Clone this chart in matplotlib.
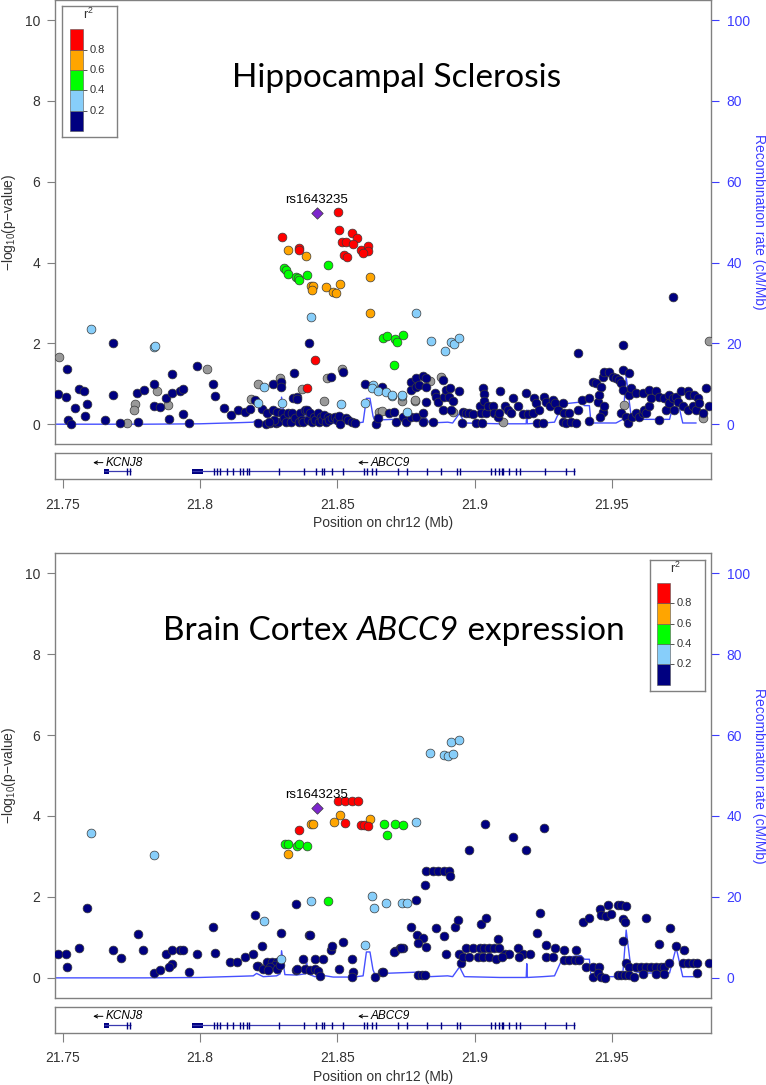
import numpy as np
import matplotlib
matplotlib.use('Agg')
import matplotlib.pyplot as plt

plt.rcParams['font.family'] = ['Liberation Sans', 'DejaVu Sans']
plt.rcParams['mathtext.fontset'] = 'custom'
plt.rcParams['mathtext.rm'] = 'Liberation Sans'
plt.rcParams['mathtext.it'] = 'Liberation Sans:italic'
plt.rcParams['mathtext.bf'] = 'Liberation Sans:bold'

# ---------------- data ----------------
XLIM = (21.7473, 21.9862)
YLIM = (-0.49, 10.49)
X_TICKS = [21.75, 21.80, 21.85, 21.90, 21.95]
X_TICK_LABELS = ['21.75', '21.8', '21.85', '21.9', '21.95']
Y_TICKS = [0, 2, 4, 6, 8, 10]
RECOMB_TICKS = [0, 20, 40, 60, 80, 100]

LD_BINS = [0.0, 0.2, 0.4, 0.6, 0.8, 1.0]
LD_LABELS = ['0.2', '0.4', '0.6', '0.8']
LD_COLORS = ['#000080', '#87CEFA', '#00FF00', '#FFA500', '#FF0000']
NA_COLOR = '#999999'
LEAD_COLOR = '#7D26CD'

LEAD_SNP = 'rs1643235'
HS_TITLE = ['Hippocampal Sclerosis']
EQ_TITLE = ['Brain Cortex ', 'ABCC9', ' expression']
EQ_TITLE_ITALIC = [False, True, False]

RECOMB_POS = [21.7473, 21.7800, 21.8000, 21.8100, 21.8150, 21.8194, 21.8206, 21.8230, 21.8279,
              21.8292, 21.8297, 21.8309, 21.8352, 21.8384, 21.8388, 21.8393, 21.8418, 21.8449,
              21.8485, 21.8558, 21.8594, 21.8606, 21.8619, 21.8630, 21.8637, 21.8666, 21.8823,
              21.8836, 21.8902, 21.8920, 21.8945, 21.8963, 21.9091, 21.9188, 21.9190, 21.9192,
              21.9248, 21.9291, 21.9321, 21.9388, 21.9400, 21.9418, 21.9424, 21.9515, 21.9540,
              21.9552, 21.9570, 21.9588, 21.9612, 21.9710, 21.9734, 21.9758, 21.9806]
RECOMB_RATE = [0.0, 0.0, 0.1, 0.3, 0.4, 0.5, 1.1, 0.3, 0.5,
               1.0, 6.7, 0.8, 0.7, 1.0, 4.4, 1.0, 0.3, 0.6,
               0.2, 0.2, 0.5, 6.4, 6.4, 2.0, 0.8, 1.1, 1.5,
               0.3, 0.5, 0.3, 2.7, 0.3, 0.1, 0.1, 3.5, 0.1,
               0.3, 0.5, 5.0, 5.5, 4.6, 4.6, 0.3, 0.3, 1.2,
               11.8, 2.0, 1.5, 1.2, 1.2, 7.5, 0.3, 0.3]

GENE_NAMES = ['KCNJ8', 'ABCC9']
GENE_START = [21.7651, 21.7971]
GENE_END = [21.7747, 21.9364]
GENE_BLOCKS = [(21.7651, 21.7669), (21.7971, 21.8011)]
KCNJ8_EXONS = [21.7734, 21.7745]
ABCC9_EXONS = [21.8052, 21.8061, 21.8073, 21.8097, 21.8119, 21.8146, 21.8157, 21.8170, 21.8179,
               21.8288, 21.8379, 21.8422, 21.8443, 21.8451, 21.8479, 21.8521, 21.8597, 21.8609,
               21.8625, 21.8640, 21.8720, 21.8754, 21.8826, 21.8878, 21.8935, 21.8947, 21.9058,
               21.9075, 21.9088, 21.9100, 21.9105, 21.9127, 21.9151, 21.9166, 21.9257, 21.9333,
               21.9361]

# Hippocampal sclerosis GWAS (position Mb, -log10 p)
HS_LEAD = (21.8425, 5.22)
HS_RED = [(21.8503, 5.25), (21.8506, 4.80), (21.8552, 4.74), (21.8572, 4.60), (21.8518, 4.50),
          (21.8531, 4.50), (21.8558, 4.46), (21.8585, 4.31), (21.8610, 4.41), (21.8612, 4.28),
          (21.8592, 4.23), (21.8525, 4.19), (21.8534, 4.15), (21.8297, 4.64), (21.8360, 4.37),
          (21.8361, 4.30), (21.8418, 1.59), (21.8388, 0.89)]
HS_ORANGE = [(21.8319, 4.31), (21.8385, 4.16), (21.8619, 3.64), (21.8403, 3.41), (21.8412, 3.41),
             (21.8409, 3.31), (21.8460, 3.39), (21.8509, 3.47), (21.8485, 3.27), (21.8495, 3.25),
             (21.8619, 2.76)]
HS_GREEN = [(21.8467, 3.93), (21.8306, 3.87), (21.8313, 3.82), (21.8319, 3.73), (21.8349, 3.65),
            (21.8357, 3.61), (21.8361, 3.57), (21.8390, 3.69), (21.8667, 2.13), (21.8681, 2.19),
            (21.8710, 2.10), (21.8716, 2.03), (21.8740, 2.21), (21.8705, 1.47)]
HS_LBLUE = [(21.7602, 2.35), (21.7832, 1.91), (21.7835, 1.94), (21.8210, 0.53), (21.8234, 0.92),
            (21.8297, 0.52), (21.8404, 2.66), (21.8512, 0.50), (21.8600, 0.53), (21.8631, 0.97),
            (21.8625, 0.89), (21.8649, 0.83), (21.8679, 0.79), (21.8698, 0.70), (21.8736, 0.71),
            (21.8752, 0.31), (21.8787, 2.76), (21.8842, 2.06), (21.8915, 2.04), (21.8924, 1.99),
            (21.8943, 2.13), (21.8893, 1.80), (21.8700, 0.73), (21.8735, 0.73)]
HS_GRAY = [(21.7488, 1.66), (21.7733, 0.02), (21.7763, 0.50), (21.7760, 0.36), (21.7842, 0.83),
           (21.7882, 0.48), (21.8024, 1.37), (21.8184, 0.62), (21.8212, 0.99), (21.8291, 1.14),
           (21.8370, 0.87), (21.8451, 0.58), (21.8461, 1.14), (21.8516, 1.37), (21.8653, 0.29),
           (21.8661, 0.33), (21.8736, 0.58), (21.8782, 0.58), (21.8837, 1.08), (21.8878, 1.18),
           (21.8921, 0.31), (21.9103, 0.06), (21.9545, 0.48), (21.9830, 0.15), (21.9855, 2.06),
           (21.8784, 0.60)]
HS_NAVY = [(21.7515, 1.36), (21.7484, 0.75), (21.7511, 0.68), (21.7559, 0.87), (21.7579, 0.83),
           (21.7587, 0.50), (21.7581, 0.21), (21.7545, 0.40), (21.7520, 0.11), (21.7530, 0.00),
           (21.7654, 0.11), (21.7682, 0.73), (21.7684, 2.00), (21.7709, 0.02), (21.7775, 0.05),
           (21.7769, 0.77), (21.7796, 0.85), (21.7832, 1.00), (21.7832, 0.45), (21.7854, 0.42),
           (21.7875, 0.66), (21.7897, 0.78), (21.7898, 1.25), (21.7888, 0.12), (21.7927, 0.81),
           (21.7939, 0.87), (21.7937, 0.25), (21.7961, 0.04), (21.7988, 1.43), (21.8048, 1.00),
           (21.8054, 0.71), (21.8087, 0.40), (21.8112, 0.23), (21.8138, 0.34), (21.8164, 0.29),
           (21.8182, 0.37), (21.8200, 0.60), (21.8210, 0.02), (21.8224, 0.37), (21.8243, 0.27),
           (21.8239, 0.01), (21.8255, 0.02), (21.8264, 0.99), (21.8264, 0.35), (21.8279, 0.31),
           (21.8276, 0.02), (21.8294, 1.05), (21.8294, 0.92), (21.8297, 0.27), (21.8285, 0.06),
           (21.8268, 0.11), (21.8250, 0.06), (21.8305, 0.15), (21.8312, 0.06), (21.8320, 0.27),
           (21.8330, 0.06), (21.8334, 0.27), (21.8340, 0.64), (21.8342, 1.26), (21.8346, 0.15),
           (21.8355, 0.67), (21.8360, 0.06), (21.8365, 0.27), (21.8370, 0.11), (21.8376, 0.06),
           (21.8382, 0.35), (21.8388, 0.35), (21.8395, 0.11), (21.8398, 2.02), (21.8402, 0.27),
           (21.8408, 0.06), (21.8415, 0.19), (21.8420, 0.11), (21.8428, 0.27), (21.8432, 0.06),
           (21.8440, 0.19), (21.8445, 0.11), (21.8452, 0.23), (21.8458, 0.06), (21.8465, 0.19),
           (21.8470, 0.11), (21.8477, 1.18), (21.8480, 0.15), (21.8490, 0.19), (21.8500, 0.11),
           (21.8507, 0.21), (21.8509, 0.01), (21.8522, 1.30), (21.8530, 0.15), (21.8540, 0.11),
           (21.8552, 0.06), (21.8564, 0.04), (21.8600, 1.00), (21.8640, 0.01), (21.8661, 0.93),
           (21.8650, 0.15), (21.8352, 0.62),
           (21.8690, 0.27), (21.8708, 0.31), (21.8715, 0.06), (21.8739, 0.19), (21.8751, 0.06),
           (21.8769, 1.05), (21.8769, 0.85), (21.8769, 0.19), (21.8787, 1.14), (21.8787, 0.93),
           (21.8787, 0.19), (21.8799, 0.97), (21.8812, 1.20), (21.8812, 0.27), (21.8812, 0.06),
           (21.8824, 1.14), (21.8824, 0.93), (21.8824, 0.56), (21.8848, 0.06), (21.8854, 0.77),
           (21.8860, 0.68), (21.8866, 0.56), (21.8884, 1.10), (21.8890, 0.68), (21.8884, 0.35),
           (21.8896, 0.85), (21.8906, 0.68), (21.8909, 0.89), (21.8915, 0.35), (21.8921, 0.58),
           (21.8945, 0.83), (21.8953, 0.02), (21.8957, 0.31), (21.8969, 0.27), (21.8981, 0.27),
           (21.8993, 0.26), (21.9006, 0.02), (21.9018, 0.44), (21.9024, 0.27), (21.9027, 0.02),
           (21.9030, 0.89), (21.9036, 0.75), (21.9036, 0.58), (21.9042, 0.27), (21.9048, 0.44),
           (21.9066, 0.44), (21.9072, 0.27), (21.9084, 0.19), (21.9093, 0.81), (21.9090, 0.27),
           (21.9109, 0.44), (21.9121, 0.35), (21.9133, 0.27), (21.9139, 0.66), (21.9157, 0.44),
           (21.9175, 0.26), (21.9188, 0.78), (21.9194, 0.26), (21.9212, 0.27), (21.9218, 0.64),
           (21.9224, 0.52), (21.9226, 0.02), (21.9236, 0.35), (21.9248, 0.02), (21.9254, 0.68),
           (21.9260, 0.56), (21.9273, 0.44), (21.9285, 0.60), (21.9291, 0.52), (21.9303, 0.35),
           (21.9321, 0.52), (21.9327, 0.27), (21.9321, 0.06), (21.9333, 0.02), (21.9345, 0.27),
           (21.9351, 0.06), (21.9370, 0.02), (21.9376, 0.35), (21.9391, 0.60), (21.9416, 0.09),
           (21.9418, 0.64), (21.9430, 1.05), (21.9442, 1.01), (21.9448, 0.56), (21.9452, 0.73),
           (21.9460, 0.93), (21.9466, 1.18), (21.9473, 1.30), (21.9466, 0.31), (21.9473, 0.44),
           (21.9455, 0.19), (21.9491, 1.30), (21.9503, 1.18), (21.9515, 1.14), (21.9527, 1.10),
           (21.9533, 1.01), (21.9539, 1.34), (21.9539, 0.85), (21.9533, 0.27), (21.9552, 0.19),
           (21.9557, 0.02), (21.9561, 1.26), (21.9564, 0.73), (21.9570, 0.89), (21.9573, 0.19),
           (21.9588, 0.77), (21.9588, 0.27), (21.9600, 0.19), (21.9612, 0.77), (21.9612, 0.27),
           (21.9618, 0.35), (21.9624, 0.27), (21.9636, 0.85), (21.9636, 0.44), (21.9642, 0.64),
           (21.9661, 0.81), (21.9673, 0.68), (21.9673, 0.11), (21.9691, 0.64), (21.9697, 0.35),
           (21.9709, 0.73), (21.9709, 0.52), (21.9721, 0.64), (21.9727, 0.35), (21.9733, 0.68),
           (21.9739, 0.56), (21.9752, 0.81), (21.9758, 0.44), (21.9776, 0.81), (21.9776, 0.35),
           (21.9782, 0.73), (21.9794, 0.44), (21.9800, 0.73), (21.9806, 0.35), (21.9812, 0.64),
           (21.9818, 0.52), (21.9830, 0.27), (21.9842, 0.89), (21.9855, 0.44),
           (21.9376, 1.77), (21.9542, 1.95), (21.9722, 3.14)]

# Brain cortex ABCC9 eQTL (position Mb, -log10 p)
EQ_LEAD = (21.8425, 4.19)
EQ_RED = [(21.8503, 4.37), (21.8528, 4.38), (21.8552, 4.38), (21.8574, 4.37), (21.8528, 3.82),
          (21.8586, 3.78), (21.8598, 3.78), (21.8612, 3.76), (21.8361, 3.66)]
EQ_ORANGE = [(21.8509, 4.03), (21.8487, 3.86), (21.8403, 3.80), (21.8410, 3.80), (21.8619, 3.93),
             (21.8319, 3.05)]
EQ_GREEN = [(21.8467, 1.91), (21.8670, 3.80), (21.8710, 3.80), (21.8740, 3.78), (21.8680, 3.54),
            (21.8309, 3.31), (21.8319, 3.31), (21.8354, 3.26), (21.8361, 3.30), (21.8390, 3.26)]
EQ_LBLUE = [(21.7603, 3.59), (21.7832, 3.04), (21.8234, 1.40), (21.8295, 0.46), (21.8404, 1.90),
            (21.8600, 0.81), (21.8627, 2.02), (21.8633, 1.73), (21.8679, 1.84), (21.8734, 1.84),
            (21.8752, 1.84), (21.8786, 3.84), (21.8837, 5.55), (21.8889, 5.50), (21.8904, 5.49),
            (21.8922, 5.54), (21.8915, 5.83), (21.8943, 5.88)]
EQ_NAVY = [(21.7484, 0.60), (21.7511, 0.60), (21.7517, 0.26), (21.7560, 0.74), (21.7587, 1.73),
           (21.7682, 0.69), (21.7711, 0.50), (21.7775, 1.08), (21.7793, 0.69), (21.7832, 0.13),
           (21.7854, 0.19), (21.7875, 0.60), (21.7897, 0.69), (21.7897, 0.34), (21.7888, 0.26),
           (21.7927, 0.69), (21.7939, 0.69), (21.7961, 0.14), (21.7988, 0.60), (21.8048, 1.26),
           (21.8054, 0.62), (21.8109, 0.40), (21.8136, 0.38), (21.8164, 0.52), (21.8194, 0.59),
           (21.8200, 1.55), (21.8224, 0.78), (21.8210, 0.30), (21.8208, 0.29), (21.8230, 0.21),
           (21.8243, 0.40), (21.8261, 0.40), (21.8279, 0.40), (21.8273, 0.31), (21.8255, 0.26),
           (21.8249, 0.19), (21.8279, 0.21), (21.8291, 0.31), (21.8295, 1.11), (21.8349, 1.82),
           (21.8398, 1.07), (21.8402, 1.07), (21.8349, 0.19), (21.8352, 0.21), (21.8376, 0.46),
           (21.8382, 0.21), (21.8400, 0.19), (21.8418, 0.46), (21.8418, 0.21), (21.8430, 0.17),
           (21.8437, 0.04), (21.8449, 0.46), (21.8476, 0.70), (21.8482, 0.78), (21.8507, 0.21),
           (21.8521, 0.89), (21.8552, 0.46), (21.8558, 0.15), (21.8552, 0.03), (21.8639, 0.03),
           (21.8661, 0.15), (21.8710, 0.66), (21.8728, 0.73), (21.8740, 0.73), (21.8786, 1.92),
           (21.8821, 2.30), (21.8768, 1.26), (21.8789, 1.06), (21.8813, 0.98), (21.8795, 0.85),
           (21.8824, 0.77), (21.8859, 1.24), (21.8890, 1.04), (21.8895, 0.59), (21.8795, 0.07),
           (21.8807, 0.07), (21.8819, 0.07), (21.8824, 2.64), (21.8848, 2.64), (21.8866, 2.64),
           (21.8890, 2.64), (21.8906, 2.64), (21.8911, 2.52), (21.8979, 3.16), (21.9038, 3.80),
           (21.9139, 3.49), (21.9188, 3.16), (21.9252, 3.71), (21.8927, 1.25), (21.8939, 1.43),
           (21.9024, 1.32), (21.9042, 1.49), (21.9085, 0.96), (21.9228, 1.10), (21.9239, 1.61),
           (21.9260, 0.81), (21.9293, 0.74), (21.9327, 0.70), (21.9370, 0.70), (21.9394, 1.39),
           (21.9418, 1.49), (21.9457, 1.70), (21.9485, 1.80), (21.9461, 1.55), (21.9479, 1.53),
           (21.9497, 1.59), (21.9521, 1.80), (21.9533, 1.80), (21.9552, 1.77), (21.9540, 1.45),
           (21.9546, 1.39), (21.9540, 0.91), (21.9625, 1.49), (21.9671, 0.83), (21.9710, 1.22),
           (21.9734, 0.78), (21.9764, 0.70), (21.8945, 0.60), (21.8969, 0.73), (21.8993, 0.73),
           (21.9018, 0.73), (21.9036, 0.75), (21.9054, 0.73), (21.9072, 0.73), (21.9090, 0.73),
           (21.9109, 0.60), (21.9127, 0.60), (21.9157, 0.73), (21.9175, 0.60), (21.9200, 0.60),
           (21.8951, 0.36), (21.8957, 0.52), (21.8981, 0.52), (21.9012, 0.52), (21.9030, 0.52),
           (21.9054, 0.52), (21.9078, 0.46), (21.9100, 0.52), (21.9163, 0.52), (21.9260, 0.52),
           (21.9285, 0.52), (21.9327, 0.44), (21.9345, 0.44), (21.9364, 0.44), (21.9382, 0.44),
           (21.9406, 0.27), (21.9430, 0.27), (21.9454, 0.27), (21.9430, 0.03), (21.9448, 0.11),
           (21.9460, 0.03), (21.9476, 0.00), (21.9521, 0.07), (21.9533, 0.07), (21.9546, 0.07),
           (21.9552, 0.36), (21.9564, 0.27), (21.9588, 0.27), (21.9606, 0.27), (21.9624, 0.27),
           (21.9642, 0.27), (21.9661, 0.27), (21.9679, 0.27), (21.9691, 0.27), (21.9709, 0.36),
           (21.9758, 0.36), (21.9776, 0.36), (21.9794, 0.36), (21.9809, 0.36), (21.9809, 0.13),
           (21.9855, 0.36), (21.9564, 0.07), (21.9582, 0.03), (21.9612, 0.09), (21.9661, 0.09),
           (21.9691, 0.09), (21.8666, 0.15), (21.8708, 0.64), (21.8733, 0.75)]
EQ_GRAY = []

# ---------------- layout ----------------
W, H = 766, 1085
fig = plt.figure(figsize=(W / 100, H / 100), dpi=100)

def frac(left, top, right, bottom):
    return [left / W, 1 - bottom / H, (right - left) / W, (bottom - top) / H]

TXT = '#333333'
SPINE = '#808080'
BLUE = '#3c3cff'
SC = dict(s=40, edgecolors='#3a3a3a', linewidths=0.5, zorder=3)


def draw_title(ax, pieces, italic, x_left):
    prev = None
    for piece, it in zip(pieces, italic):
        style = 'italic' if it else 'normal'
        if prev is None:
            prev = ax.text(x_left, 0.805, piece, transform=ax.transAxes, ha='left',
                           va='baseline', fontsize=24, family='Lato', style=style,
                           color='black')
        else:
            prev = ax.annotate(piece, xy=(1, 0), xycoords=prev, ha='left', va='bottom',
                               fontsize=24, family='Lato', style=style, color='black')


def main_panel(rect, series, gray, lead, title, title_italic, title_x, legend_rect):
    ax = fig.add_axes(rect)
    ax2 = ax.twinx()
    ax2.plot(RECOMB_POS, RECOMB_RATE, color='#4650ff', lw=1.0)
    ax2.set_ylim(YLIM[0] * 10, YLIM[1] * 10)
    ax2.set_yticks(RECOMB_TICKS)
    ax2.tick_params(axis='y', colors=BLUE, labelsize=10, length=6, width=0.8, pad=5)
    ax2.set_ylabel('Recombination rate (cM/Mb)', color=BLUE, fontsize=10,
                   rotation=270, labelpad=12)
    ax.set_zorder(ax2.get_zorder() + 1)
    ax.patch.set_visible(False)
    for sp in ax2.spines.values():
        sp.set_visible(False)

    if gray:
        g = np.array(gray)
        ax.scatter(g[:, 0], g[:, 1], color=NA_COLOR, **SC)
    for pts, col in series:
        p = np.array(pts)
        ax.scatter(p[:, 0], p[:, 1], color=col, **SC)
    ax.scatter([lead[0]], [lead[1]], marker='D', s=34, color=LEAD_COLOR,
               edgecolors='#3a3a3a', linewidths=0.5, zorder=4)
    ax.annotate(LEAD_SNP, xy=lead, xytext=(0, 9.5), textcoords='offset points',
                ha='center', va='center', fontsize=9.5, color='black', zorder=5)

    ax.set_xlim(XLIM)
    ax.set_ylim(YLIM)
    ax.set_xticks([])
    ax.set_yticks(Y_TICKS)
    ax.tick_params(axis='y', colors=SPINE, labelcolor=TXT, labelsize=10, length=6,
                   width=0.8, pad=5)
    ax.set_ylabel(r'$-$log$_{\mathrm{10}}$(p$-$value)', fontsize=10, color=TXT)
    ax.yaxis.set_label_coords(-0.0565, 0.5)
    for sp in ax.spines.values():
        sp.set_color(SPINE)
        sp.set_linewidth(1.0)

    draw_title(ax, title, title_italic, title_x)

    # r2 legend
    lg = ax.inset_axes(legend_rect)
    lg.set_xlim(0, 1)
    lg.set_ylim(-0.0592, 1.2278)
    lg.set_xticks([])
    lg.set_yticks([])
    for sp in lg.spines.values():
        sp.set_color(SPINE)
        sp.set_linewidth(1.0)
    lows = np.array(LD_BINS[:-1])
    lg.bar(0.258, np.diff(LD_BINS), width=0.236, bottom=lows, color=LD_COLORS,
           edgecolor='#555555', linewidth=0.4)
    bounds = LD_BINS[1:-1]
    lg.hlines(bounds, 0.376, 0.45, color='#555555', lw=0.7)
    for b, lab in zip(bounds, LD_LABELS):
        lg.text(0.49, b, lab, ha='left', va='center', fontsize=8, color=TXT)
    lg.text(0.47, 1.15, r'r$^{\mathrm{2}}$', ha='center', va='center', fontsize=9, color=TXT)
    return ax


def gene_panel(rect):
    gx = fig.add_axes(rect)
    gx.set_xlim(XLIM)
    gx.set_ylim(0, 1)
    gx.set_yticks([])
    gx.set_xticks(X_TICKS)
    gx.set_xticklabels(X_TICK_LABELS)
    gx.tick_params(axis='x', colors=SPINE, labelcolor=TXT, labelsize=10, length=6.5,
                   width=0.8, pad=7)
    for sp in gx.spines.values():
        sp.set_color(SPINE)
        sp.set_linewidth(1.0)
    line_y = 0.29
    gx.hlines([line_y] * len(GENE_START), GENE_START, GENE_END, color='#3a3ab0', lw=0.9)
    for s, e in GENE_BLOCKS:
        gx.bar((s + e) / 2, 0.2, width=e - s, bottom=line_y - 0.1, color='#000080', lw=0)
    gx.vlines(KCNJ8_EXONS + ABCC9_EXONS, line_y - 0.13, line_y + 0.13, color='#000080', lw=1.0)
    for name, s, e in zip(GENE_NAMES, GENE_START, GENE_END):
        t = gx.annotate(name, xy=((s + e) / 2, 0.63), xytext=(5, 0), textcoords='offset points',
                        ha='center', va='center', fontsize=8.5, style='italic', color='black')
        gx.annotate('', xy=(0, 0.5), xycoords=t, xytext=(-9, 0), textcoords='offset points',
                    arrowprops=dict(arrowstyle='<-', color='black', lw=0.7,
                                    shrinkA=0, shrinkB=2, mutation_scale=6))
    gx.set_xlabel('Position on chr12 (Mb)', fontsize=10, color=TXT, labelpad=3)
    return gx


hs_series = [(HS_NAVY, LD_COLORS[0]), (HS_LBLUE, LD_COLORS[1]), (HS_GREEN, LD_COLORS[2]),
             (HS_ORANGE, LD_COLORS[3]), (HS_RED, LD_COLORS[4])]
eq_series = [(EQ_NAVY, LD_COLORS[0]), (EQ_LBLUE, LD_COLORS[1]), (EQ_GREEN, LD_COLORS[2]),
             (EQ_ORANGE, LD_COLORS[3]), (EQ_RED, LD_COLORS[4])]

main_panel(frac(55.3, 0.4, 711.3, 444.0), hs_series, HS_GRAY, HS_LEAD, HS_TITLE, [False],
           0.270, [0.0107, 0.6914, 0.0838, 0.2960])
gene_panel(frac(55.3, 453.0, 711.3, 479.0))
main_panel(frac(55.3, 553.3, 711.3, 997.7), eq_series, EQ_GRAY, EQ_LEAD, EQ_TITLE,
           EQ_TITLE_ITALIC, 0.164, [0.9061, 0.6908, 0.0838, 0.2941])
gene_panel(frac(55.3, 1006.7, 711.3, 1032.7))

fig.savefig('out.png', dpi=100)
